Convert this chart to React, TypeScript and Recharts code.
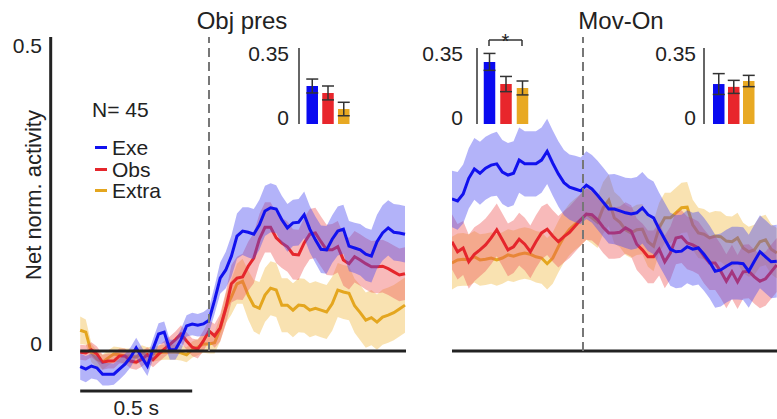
import React from 'react';
import {
  ComposedChart, Area, XAxis, YAxis, ReferenceLine,
  BarChart, Bar, ErrorBar, Cell, Legend,
} from 'recharts';

const FONT = '"Liberation Sans", Arial, Helvetica, sans-serif';
const INK = '#222222';

const SERIES = ['Exe', 'Obs', 'Extra'];
const DRAW_ORDER = ['Extra', 'Obs', 'Exe'];
const LINE_COLORS: Record<string, string> = { Exe: '#1111ee', Obs: '#e5262c', Extra: '#e4a61f' };
const BAND_COLORS: Record<string, string> = { Exe: '#4a4af0', Obs: '#ee5a5a', Extra: '#f0bb45' };
const BAR_COLORS: Record<string, string> = { Exe: '#0a0af0', Obs: '#e8262c', Extra: '#e8a923' };

// time bins (s)
const STEP_S = 0.025;
const OBJ_START_S = -0.575;
const MOV_START_S = -0.585;

// ---- Obj pres panel (mean, sem) ----
const OBJ_EXE = [
  -0.025, -0.029, -0.024, -0.027, -0.037, -0.037, -0.037, -0.029, -0.021, -0.010,
  0.005, -0.010, -0.024, 0.003, 0.027, 0.030, 0.002, 0.002, 0.018, 0.040,
  0.043, 0.041, 0.043, 0.049, 0.081, 0.116, 0.129, 0.151, 0.183, 0.191,
  0.189, 0.186, 0.201, 0.223, 0.228, 0.226, 0.209, 0.196, 0.204, 0.205,
  0.217, 0.194, 0.177, 0.162, 0.161, 0.178, 0.191, 0.194, 0.167, 0.164,
  0.161, 0.154, 0.151, 0.174, 0.188, 0.196, 0.189, 0.188, 0.186,
];
const OBJ_EXE_SEM = [
  0.021, 0.021, 0.020, 0.019, 0.018, 0.018, 0.017, 0.017, 0.016, 0.016,
  0.016, 0.016, 0.016, 0.016, 0.017, 0.017, 0.016, 0.016, 0.017, 0.017,
  0.018, 0.018, 0.019, 0.020, 0.022, 0.025, 0.029, 0.033, 0.036, 0.038,
  0.040, 0.040, 0.040, 0.040, 0.039, 0.038, 0.038, 0.038, 0.037, 0.037,
  0.037, 0.037, 0.037, 0.038, 0.038, 0.038, 0.039, 0.039, 0.040, 0.040,
  0.041, 0.042, 0.042, 0.043, 0.044, 0.044, 0.045, 0.045, 0.045,
];
const OBJ_OBS = [
  -0.002, -0.003, 0.002, -0.005, -0.018, -0.016, -0.016, -0.008, -0.008, -0.016,
  -0.018, -0.013, -0.006, -0.014, -0.005, 0.003, 0.010, 0.018, 0.027, 0.016,
  0.006, 0.003, 0.016, 0.032, 0.024, 0.037, 0.068, 0.107, 0.116, 0.118,
  0.135, 0.148, 0.178, 0.197, 0.197, 0.180, 0.172, 0.166, 0.154, 0.153,
  0.172, 0.186, 0.188, 0.174, 0.161, 0.161, 0.166, 0.145, 0.139, 0.150,
  0.145, 0.139, 0.134, 0.134, 0.135, 0.131, 0.126, 0.121, 0.123,
];
const OBJ_OBS_SEM = [
  0.012, 0.012, 0.012, 0.012, 0.012, 0.012, 0.012, 0.012, 0.012, 0.012,
  0.012, 0.012, 0.012, 0.012, 0.013, 0.013, 0.013, 0.013, 0.014, 0.014,
  0.014, 0.015, 0.016, 0.017, 0.019, 0.022, 0.026, 0.030, 0.034, 0.037,
  0.039, 0.040, 0.040, 0.040, 0.040, 0.040, 0.040, 0.040, 0.040, 0.040,
  0.040, 0.040, 0.040, 0.040, 0.040, 0.041, 0.041, 0.041, 0.041, 0.041,
  0.041, 0.041, 0.041, 0.042, 0.042, 0.042, 0.042, 0.042, 0.042,
];
const OBJ_EXTRA = [
  0.033, 0.030, -0.003, -0.013, -0.018, -0.011, -0.005, -0.006, -0.008, -0.008,
  -0.010, -0.003, -0.006, -0.005, -0.003, -0.002, -0.002, -0.002, -0.003, -0.006,
  0.002, 0.006, 0.011, 0.011, 0.013, 0.035, 0.068, 0.086, 0.107, 0.111,
  0.089, 0.072, 0.068, 0.089, 0.100, 0.097, 0.073, 0.073, 0.065, 0.073,
  0.072, 0.065, 0.068, 0.065, 0.062, 0.075, 0.097, 0.094, 0.092, 0.072,
  0.061, 0.049, 0.053, 0.046, 0.054, 0.057, 0.061, 0.067, 0.073,
];
const OBJ_EXTRA_SEM = [
  0.022, 0.020, 0.015, 0.013, 0.012, 0.012, 0.012, 0.012, 0.012, 0.012,
  0.012, 0.012, 0.012, 0.012, 0.012, 0.012, 0.012, 0.012, 0.012, 0.012,
  0.013, 0.013, 0.014, 0.015, 0.017, 0.020, 0.024, 0.028, 0.032, 0.036,
  0.039, 0.041, 0.042, 0.043, 0.043, 0.043, 0.043, 0.043, 0.043, 0.043,
  0.043, 0.043, 0.043, 0.043, 0.043, 0.043, 0.043, 0.043, 0.043, 0.043,
  0.044, 0.044, 0.044, 0.044, 0.044, 0.044, 0.044, 0.044, 0.044,
];

// ---- Mov-On panel (mean, sem) ----
const MOV_EXE = [
  0.242, 0.239, 0.250, 0.275, 0.290, 0.283, 0.291, 0.296, 0.298, 0.285,
  0.280, 0.283, 0.304, 0.298, 0.298, 0.298, 0.304, 0.318, 0.299, 0.282,
  0.268, 0.261, 0.258, 0.255, 0.264, 0.258, 0.248, 0.237, 0.226, 0.226,
  0.223, 0.220, 0.218, 0.220, 0.228, 0.217, 0.212, 0.194, 0.178, 0.162,
  0.158, 0.159, 0.166, 0.162, 0.164, 0.154, 0.142, 0.127, 0.129, 0.135,
  0.140, 0.140, 0.139, 0.127, 0.143, 0.158, 0.150, 0.142, 0.143,
];
const MOV_EXE_SEM = [
  0.045, 0.046, 0.047, 0.048, 0.049, 0.050, 0.050, 0.050, 0.051, 0.051,
  0.051, 0.051, 0.052, 0.052, 0.052, 0.052, 0.052, 0.052, 0.052, 0.052,
  0.052, 0.052, 0.053, 0.053, 0.054, 0.054, 0.055, 0.055, 0.055, 0.056,
  0.056, 0.056, 0.057, 0.057, 0.057, 0.058, 0.058, 0.058, 0.058, 0.058,
  0.058, 0.058, 0.058, 0.058, 0.058, 0.058, 0.058, 0.058, 0.058, 0.058,
  0.058, 0.058, 0.058, 0.058, 0.058, 0.058, 0.058, 0.058, 0.058,
];
const MOV_OBS = [
  0.174, 0.158, 0.164, 0.142, 0.154, 0.161, 0.169, 0.180, 0.193, 0.177,
  0.161, 0.166, 0.178, 0.170, 0.158, 0.174, 0.188, 0.194, 0.183, 0.174,
  0.182, 0.189, 0.199, 0.209, 0.218, 0.217, 0.209, 0.197, 0.188, 0.188,
  0.189, 0.196, 0.191, 0.170, 0.161, 0.150, 0.150, 0.162, 0.142, 0.156,
  0.180, 0.182, 0.172, 0.169, 0.164, 0.151, 0.140, 0.140, 0.127, 0.111,
  0.126, 0.110, 0.126, 0.127, 0.118, 0.111, 0.115, 0.126, 0.137,
];
const MOV_OBS_SEM = [
  0.044, 0.044, 0.043, 0.043, 0.043, 0.042, 0.042, 0.042, 0.042, 0.042,
  0.042, 0.042, 0.042, 0.042, 0.042, 0.042, 0.042, 0.041, 0.041, 0.041,
  0.041, 0.041, 0.041, 0.041, 0.041, 0.041, 0.041, 0.041, 0.041, 0.041,
  0.041, 0.041, 0.041, 0.041, 0.042, 0.042, 0.042, 0.042, 0.042, 0.042,
  0.042, 0.042, 0.042, 0.042, 0.042, 0.043, 0.043, 0.043, 0.043, 0.043,
  0.043, 0.043, 0.043, 0.043, 0.043, 0.043, 0.043, 0.043, 0.043,
];
const MOV_EXTRA = [
  0.140, 0.145, 0.146, 0.145, 0.150, 0.145, 0.146, 0.148, 0.145, 0.148,
  0.153, 0.151, 0.154, 0.156, 0.154, 0.150, 0.148, 0.139, 0.148, 0.166,
  0.182, 0.194, 0.202, 0.209, 0.218, 0.212, 0.205, 0.228, 0.240, 0.212,
  0.205, 0.193, 0.188, 0.193, 0.194, 0.174, 0.167, 0.196, 0.212, 0.212,
  0.220, 0.228, 0.229, 0.201, 0.188, 0.186, 0.180, 0.183, 0.182, 0.175,
  0.174, 0.180, 0.164, 0.158, 0.161, 0.174, 0.177, 0.162, 0.156,
];
const MOV_EXTRA_SEM = [
  0.042, 0.042, 0.042, 0.041, 0.041, 0.041, 0.041, 0.041, 0.041, 0.041,
  0.041, 0.041, 0.041, 0.041, 0.041, 0.041, 0.041, 0.041, 0.041, 0.041,
  0.041, 0.041, 0.041, 0.041, 0.041, 0.041, 0.041, 0.041, 0.041, 0.041,
  0.040, 0.040, 0.040, 0.040, 0.040, 0.040, 0.040, 0.040, 0.040, 0.040,
  0.040, 0.040, 0.040, 0.040, 0.040, 0.040, 0.040, 0.040, 0.040, 0.040,
  0.040, 0.040, 0.040, 0.040, 0.040, 0.040, 0.040, 0.040, 0.040,
];

// ---- inset bars ----
const INSET_CATS = ['Exe', 'Obs', 'Extra'];
const OBJ_BAR_MEAN = [0.175, 0.143, 0.069];
const OBJ_BAR_SEM = [0.032, 0.032, 0.031];
const PRE_MOV_BAR_MEAN = [0.286, 0.184, 0.166];
const PRE_MOV_BAR_SEM = [0.039, 0.035, 0.032];
const POST_MOV_BAR_MEAN = [0.184, 0.171, 0.198];
const POST_MOV_BAR_SEM = [0.048, 0.030, 0.026];

const MAIN_Y_DOMAIN: [number, number] = [-0.08, 0.5];
const MAIN_Y_TICKS = [0, 0.5];
const INSET_Y_TICKS = [0, 0.35];
const SCALE_BAR_S = 0.5;

function buildRows(start: number, m: Record<string, number[]>, s: Record<string, number[]>) {
  return m.Exe.map((_, i) => {
    const row: any = { t: +(start + STEP_S * i).toFixed(4) };
    SERIES.forEach((k) => {
      row[k] = m[k][i];
      row[k + 'Band'] = [m[k][i] - s[k][i], m[k][i] + s[k][i]];
    });
    return row;
  });
}

const OBJ_ROWS = buildRows(
  OBJ_START_S,
  { Exe: OBJ_EXE, Obs: OBJ_OBS, Extra: OBJ_EXTRA },
  { Exe: OBJ_EXE_SEM, Obs: OBJ_OBS_SEM, Extra: OBJ_EXTRA_SEM },
);
const MOV_ROWS = buildRows(
  MOV_START_S,
  { Exe: MOV_EXE, Obs: MOV_OBS, Extra: MOV_EXTRA },
  { Exe: MOV_EXE_SEM, Obs: MOV_OBS_SEM, Extra: MOV_EXTRA_SEM },
);

const MainTick = (props: any) => {
  const { y, payload } = props;
  const v = payload.value;
  return (
    <text x={42} y={y + (v === 0 ? -7 : 8)} textAnchor="end" dominantBaseline="central"
      fontSize={21} fontFamily={FONT} fill={INK}>{String(v)}</text>
  );
};

const LegendBox = (props: any) => {
  const payload = props.payload || [];
  const names = SERIES.filter((n) => payload.length === 0 || payload.some((p: any) => p.value === n));
  return (
    <div style={{ fontFamily: FONT, fontSize: 21, color: INK }}>
      {names.map((name) => (
        <div key={name} style={{ display: 'flex', alignItems: 'center', height: 21.5, lineHeight: '21.5px' }}>
          <span style={{ display: 'inline-block', width: 12, height: 3, background: LINE_COLORS[name], marginRight: 5 }} />
          <span>{name}</span>
        </div>
      ))}
    </div>
  );
};

function TracePanel({ rows, left, width, xDomain, withAxis, zeroFrom, zeroTo }: any) {
  return (
    <div style={{ position: 'absolute', left, top: 0 }}>
      <ComposedChart width={width} height={419} data={rows}
        margin={{ top: 37, right: withAxis ? 4 : 0, bottom: 17.8, left: 0 }}>
        <XAxis type="number" dataKey="t" domain={xDomain} hide allowDataOverflow />
        <YAxis type="number" domain={MAIN_Y_DOMAIN} ticks={MAIN_Y_TICKS} hide={!withAxis} width={50}
          axisLine={false} tickLine={false} tick={MainTick} interval={0} allowDataOverflow />
        {DRAW_ORDER.flatMap((s) => [
          <Area key={s + 'b'} dataKey={s + 'Band'} type="linear" stroke="none" fill={BAND_COLORS[s]}
            fillOpacity={0.42} isAnimationActive={false} legendType="none" activeDot={false} />,
          <Area key={s} dataKey={s} name={s} type="linear" stroke={LINE_COLORS[s]} strokeWidth={3}
            fill="none" fillOpacity={0} dot={false} activeDot={false} isAnimationActive={false} />,
        ])}
        <ReferenceLine segment={[{ x: zeroFrom, y: 0 }, { x: zeroTo, y: 0 }]} stroke={INK} strokeWidth={3} />
        <ReferenceLine segment={[{ x: 0, y: 0 }, { x: 0, y: 0.5 }]} stroke="#777" strokeWidth={2}
          strokeDasharray="9 5" />
        {withAxis && (
          <ReferenceLine segment={[{ x: -0.7067, y: 0 }, { x: -0.7067, y: 0.5 }]} stroke={INK} strokeWidth={3} />
        )}
        {withAxis && (
          <ReferenceLine
            segment={[{ x: OBJ_START_S, y: -0.0637 }, { x: OBJ_START_S + SCALE_BAR_S, y: -0.0637 }]}
            stroke={INK} strokeWidth={3}
            label={{ value: '0.5 s', position: 'bottom', offset: 9, fontSize: 21, fill: INK, fontFamily: FONT }}
          />
        )}
        {withAxis && (
          <Legend layout="horizontal" verticalAlign="middle" align="center" content={LegendBox}
            wrapperStyle={{ position: 'absolute', left: 95, top: 137, width: 'auto', height: 'auto' }} />
        )}
      </ComposedChart>
    </div>
  );
}

function Inset({ axisX, padLeft, bandW, means, sems, gap, bracket }: any) {
  const data = INSET_CATS.map((c, i) => ({ cat: c, v: means[i], err: sems[i] }));
  const yW = 60;
  const width = yW + padLeft + 3 * bandW + 2;
  const InsetTick = (props: any) => {
    const { y, payload } = props;
    const v = payload.value;
    return (
      <text x={yW - gap} y={y + (v === 0 ? -7 : 5)} textAnchor="end" dominantBaseline="central"
        fontSize={21} fontFamily={FONT} fill={INK}>{String(v)}</text>
    );
  };
  return (
    <div style={{ position: 'absolute', left: axisX - yW, top: 33 }}>
      <BarChart width={width} height={96} data={data} margin={{ top: 15, right: 2, bottom: 5, left: 0 }}>
        <XAxis dataKey="cat" hide padding={{ left: padLeft, right: 0 }} />
        <YAxis type="number" domain={[0, 0.35]} ticks={INSET_Y_TICKS} width={yW} tickLine={false}
          axisLine={{ stroke: '#333', strokeWidth: 1.5 }} tick={InsetTick} interval={0} allowDataOverflow />
        <Bar dataKey="v" barSize={11.5} isAnimationActive={false}>
          {data.map((d) => <Cell key={d.cat} fill={BAR_COLORS[d.cat]} />)}
          <ErrorBar dataKey="err" width={6} stroke="#333" strokeWidth={1.5} direction="y" />
        </Bar>
        {bracket && (
          <ReferenceLine ifOverflow="visible" segment={[{ x: 'Exe', y: 0.387 }, { x: 'Extra', y: 0.387 }]}
            stroke="#333" strokeWidth={1.5} />
        )}
        {bracket && (
          <ReferenceLine ifOverflow="visible" segment={[{ x: 'Exe', y: 0.387 }, { x: 'Exe', y: 0.359 }]}
            stroke="#333" strokeWidth={1.5} />
        )}
        {bracket && (
          <ReferenceLine ifOverflow="visible" segment={[{ x: 'Extra', y: 0.387 }, { x: 'Extra', y: 0.359 }]}
            stroke="#333" strokeWidth={1.5} />
        )}
      </BarChart>
    </div>
  );
}

export default function App() {
  return (
    <div style={{
      position: 'fixed', left: 0, top: 0, width: 777, height: 419, overflow: 'hidden',
      background: '#fff', fontFamily: FONT,
    }}>
      <TracePanel rows={OBJ_ROWS} left={0} width={410} xDomain={[-0.7098, 0.8795]} withAxis
        zeroFrom={OBJ_START_S} zeroTo={0.8795} />
      <TracePanel rows={MOV_ROWS} left={452} width={325} xDomain={[-0.5848, 0.8661]} withAxis={false}
        zeroFrom={-0.5848} zeroTo={0.8661} />
      <Inset axisX={299} padLeft={5.5} bandW={15.75} means={OBJ_BAR_MEAN} sems={OBJ_BAR_SEM} gap={10} />
      <Inset axisX={477} padLeft={3.75} bandW={16.5} means={PRE_MOV_BAR_MEAN} sems={PRE_MOV_BAR_SEM} gap={14} bracket />
      <Inset axisX={704} padLeft={7} bandW={15} means={POST_MOV_BAR_MEAN} sems={POST_MOV_BAR_SEM} gap={8} />
      <svg width={777} height={419} style={{ position: 'absolute', left: 0, top: 0, pointerEvents: 'none' }}>
        <g fontFamily={FONT} fill={INK}>
          <text x={242} y={20} fontSize={24} textAnchor="middle" dominantBaseline="central">Obj pres</text>
          <text x={621} y={20} fontSize={24} textAnchor="middle" dominantBaseline="central">Mov-On</text>
          <text x={92} y={109.5} fontSize={21} dominantBaseline="central">N= 45</text>
          <text x={33} y={195} fontSize={22} textAnchor="middle" dominantBaseline="central"
            transform="rotate(-90 33 195)">Net norm. activity</text>
          <text x={505.5} y={48} fontSize={20} textAnchor="middle">*</text>
        </g>
      </svg>
    </div>
  );
}
